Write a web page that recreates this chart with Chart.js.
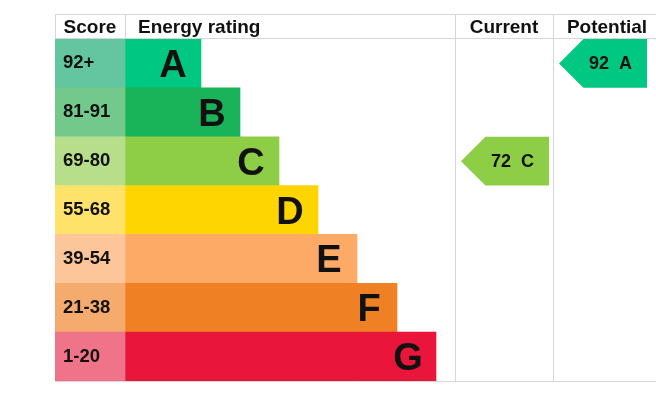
<!DOCTYPE html>
<html>
<head>
<meta charset="utf-8">
<script src="https://cdn.jsdelivr.net/npm/chart.js@4"></script>
<style>
  html, body { margin: 0; padding: 0; background: #fff; }
  #wrap { width: 656px; height: 400px; position: relative; }
</style>
</head>
<body>
<div id="wrap"><canvas id="epc"></canvas></div>
<script>
// rating bands, top to bottom
const ratings = ['A', 'B', 'C', 'D', 'E', 'F', 'G'];
const scoreBands = ['92+', '81-91', '69-80', '55-68', '39-54', '21-38', '1-20'];
// bar lengths (0 = start of the coloured bars)
const barLengths = [76, 115, 154, 193, 232, 272, 311];
const headers = ['Score', 'Energy rating', 'Current', 'Potential'];

const currentScore = 72;
const currentRating = 'C';
const potentialScore = 92;
const potentialRating = 'A';

// colours
const barColors = ['#00c781', '#19b459', '#8dce46', '#ffd500', '#fcaa65', '#ef8023', '#e9153b'];
const cellColors = ['#63c6a1', '#72c98b', '#b7df8b', '#ffe26a', '#fdc59a', '#f5aa6e', '#f07489'];

// layout in x-scale units
const scoreCol = [-70, 0];
const currentCol = [330, 428];
const potentialCol = [428, 536];
const currentArrow = [336, 424];
const potentialArrow = [434, 522];

const lineColor = '#d6d6d6';
const fontFamily = '"Liberation Sans", Arial, sans-serif';

const epcPlugin = {
  id: 'epc',
  afterDatasetsDraw(chart) {
    const ctx = chart.ctx;
    const area = chart.chartArea;
    const x = chart.scales.x;
    const y = chart.scales.y;
    const rowH = (area.bottom - area.top) / ratings.length;
    const headTop = area.top - 25;
    const px = v => x.getPixelForValue(v);

    ctx.save();
    // table lines
    ctx.strokeStyle = lineColor;
    ctx.lineWidth = 1;
    ctx.beginPath();
    ctx.moveTo(area.left, headTop + 0.5);
    ctx.lineTo(area.right, headTop + 0.5);
    ctx.moveTo(area.left, area.top - 0.5);
    ctx.lineTo(area.right, area.top - 0.5);
    ctx.moveTo(area.left, area.bottom + 0.5);
    ctx.lineTo(area.right, area.bottom + 0.5);
    ctx.moveTo(Math.round(px(scoreCol[0])) + 0.5, headTop);
    ctx.lineTo(Math.round(px(scoreCol[0])) + 0.5, area.top);
    ctx.moveTo(Math.round(px(scoreCol[1])) + 0.5, headTop);
    ctx.lineTo(Math.round(px(scoreCol[1])) + 0.5, area.top);
    ctx.moveTo(Math.round(px(currentCol[0])) + 0.5, headTop);
    ctx.lineTo(Math.round(px(currentCol[0])) + 0.5, area.bottom);
    ctx.moveTo(Math.round(px(potentialCol[0])) + 0.5, headTop);
    ctx.lineTo(Math.round(px(potentialCol[0])) + 0.5, area.bottom);
    ctx.stroke();

    // headers
    ctx.fillStyle = '#111';
    ctx.textBaseline = 'alphabetic';
    ctx.font = 'bold 19px ' + fontFamily;
    const headBase = headTop + 19;
    ctx.textAlign = 'center';
    ctx.fillText(headers[0], (px(scoreCol[0]) + px(scoreCol[1])) / 2, headBase);
    ctx.textAlign = 'left';
    ctx.fillText(headers[1], px(0) + 13, headBase);
    ctx.textAlign = 'center';
    ctx.fillText(headers[2], (px(currentCol[0]) + px(currentCol[1])) / 2, headBase);
    ctx.fillText(headers[3], (px(potentialCol[0]) + px(potentialCol[1])) / 2, headBase);

    // score bands and letters
    ratings.forEach((r, i) => {
      const cy = y.getPixelForValue(i);
      ctx.font = 'bold 18.5px ' + fontFamily;
      ctx.textAlign = 'left';
      ctx.fillText(scoreBands[i], px(scoreCol[0]) + 8, cy + 5);
      ctx.font = 'bold 38px ' + fontFamily;
      ctx.textAlign = 'center';
      ctx.fillText(r, px(barLengths[i]) - 28, cy + 13.5);
    });

    // current / potential arrows
    const drawArrow = (span, score, rating) => {
      const i = ratings.indexOf(rating);
      const cy = y.getPixelForValue(i);
      const top = cy - rowH / 2;
      const bottom = cy + rowH / 2;
      const tip = px(span[0]);
      const right = px(span[1]);
      ctx.fillStyle = barColors[i];
      ctx.beginPath();
      ctx.moveTo(tip, cy);
      ctx.lineTo(tip + rowH / 2, top);
      ctx.lineTo(right, top);
      ctx.lineTo(right, bottom);
      ctx.lineTo(tip + rowH / 2, bottom);
      ctx.closePath();
      ctx.fill();
      ctx.fillStyle = '#111';
      ctx.font = 'bold 18px ' + fontFamily;
      ctx.textAlign = 'center';
      ctx.fillText(score + '  ' + rating, (tip + right) / 2 + 7.5, cy + 5.5);
    };
    drawArrow(currentArrow, currentScore, currentRating);
    drawArrow(potentialArrow, potentialScore, potentialRating);
    ctx.restore();
  }
};

new Chart(document.getElementById('epc'), {
  type: 'bar',
  data: {
    labels: ratings,
    datasets: [
      {
        data: ratings.map(() => [scoreCol[0], scoreCol[1]]),
        backgroundColor: cellColors,
        grouped: false,
        categoryPercentage: 1,
        barPercentage: 1,
        borderWidth: 0,
      },
      {
        data: barLengths.map(v => [0, v]),
        backgroundColor: barColors,
        grouped: false,
        categoryPercentage: 1,
        barPercentage: 1,
        borderWidth: 0,
      },
    ],
  },
  options: {
    indexAxis: 'y',
    responsive: true,
    maintainAspectRatio: false,
    animation: false,
    layout: { padding: { left: 55, right: 0, top: 39, bottom: 19 } },
    scales: {
      x: { type: 'linear', min: scoreCol[0], max: 531, display: false },
      y: { display: false },
    },
    plugins: {
      legend: { display: false },
      tooltip: { enabled: false },
    },
  },
  plugins: [epcPlugin],
});
</script>
</body>
</html>
